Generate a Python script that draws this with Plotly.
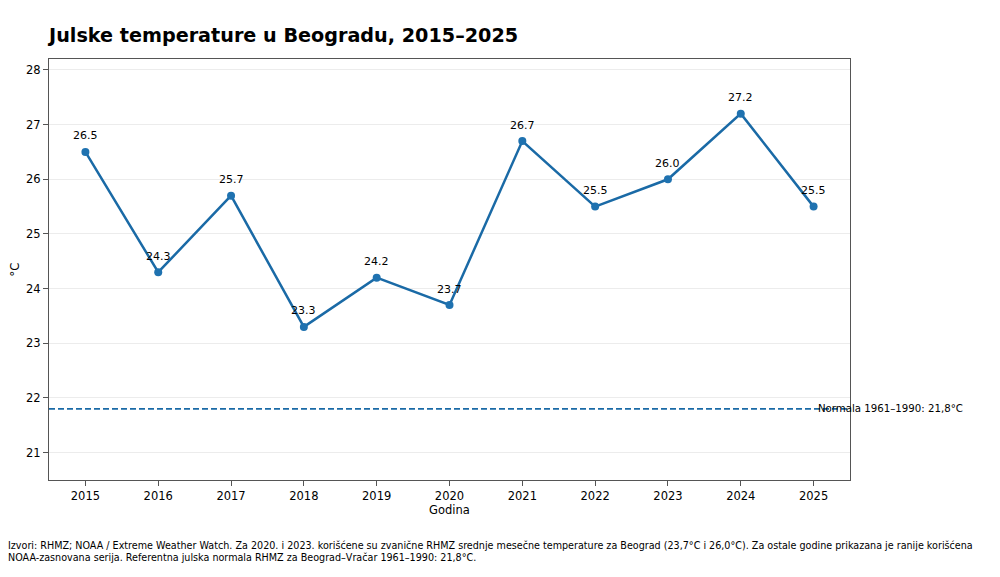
import plotly.graph_objects as go

# Julske prosecne temperature, Beograd
godine = [2015, 2016, 2017, 2018, 2019, 2020, 2021, 2022, 2023, 2024, 2025]
temperature = [26.5, 24.3, 25.7, 23.3, 24.2, 23.7, 26.7, 25.5, 26.0, 27.2, 25.5]
normala = 21.8
y_ticks = [21, 22, 23, 24, 25, 26, 27, 28]

line_color = '#1a6aa6'
font = 'DejaVu Sans'

fig = go.Figure()

# normala 1961-1990
fig.add_trace(go.Scatter(x=[2014.5, 2025.5], y=[normala, normala], mode='lines',
                         line=dict(color=line_color, width=1.8, dash='6px,3px'),
                         hoverinfo='skip', showlegend=False))

fig.add_trace(go.Scatter(x=godine, y=temperature, mode='lines+markers',
                         line=dict(color=line_color, width=2.5),
                         marker=dict(color='#1f72b0', size=8),
                         showlegend=False))

# oznake vrednosti iznad tacaka
for g, t in zip(godine, temperature):
    fig.add_annotation(x=g, y=t, text=f'{t:.1f}', showarrow=False,
                       yshift=16, font=dict(size=11, color='black', family=font))

fig.add_annotation(x=2025.03, y=normala, text='Normala 1961–1990: 21,8°C', showarrow=False,
                   xanchor='left', yanchor='middle', font=dict(size=10.2, color='black', family=font))

fig.add_annotation(xref='paper', yref='paper', x=-0.054, y=-0.137, xanchor='left', yanchor='top',
                   align='left', showarrow=False,
                   text='Izvori: RHMZ; NOAA / Extreme Weather Watch. Za 2020. i 2023. korišćene su zvanične RHMZ srednje mesečne temperature za Beograd (23,7°C i 26,0°C). Za ostale godine prikazana je ranije korišćena<br>NOAA-zasnovana serija. Referentna julska normala RHMZ za Beograd–Vračar 1961–1990: 21,8°C.',
                   font=dict(size=9.6, color='black', family=font))

fig.update_layout(
    width=1000, height=577,
    plot_bgcolor='white', paper_bgcolor='white',
    margin=dict(l=41, r=158, t=51, b=105, autoexpand=False),
    font=dict(family=font, size=12, color='black'),
    title=dict(text='<b>Julske temperature u Beogradu, 2015–2025</b>', x=0.041, xanchor='left',
               y=0.953, yanchor='middle', font=dict(size=19.2, family=font, color='black')),
)
fig.update_xaxes(range=[2014.5, 2025.5], tickvals=godine, ticks='outside', ticklen=5,
                 tickcolor='#555', showline=True, linecolor='#555', linewidth=1.2, mirror=True,
                 showgrid=False, zeroline=False, automargin=False,
                 title=dict(text='Godina', standoff=4, font=dict(size=11.5)),
                 tickfont=dict(size=11.5))
fig.update_yaxes(range=[20.5, 28.2], tickvals=y_ticks, ticks='outside', ticklen=5,
                 tickcolor='#555', showline=True, linecolor='#555', linewidth=1.2, mirror=True,
                 showgrid=True, gridcolor='#ececec', zeroline=False, automargin=False,
                 title=dict(text='°C', standoff=4, font=dict(size=11.5)),
                 tickfont=dict(size=11.5))

fig.write_html('out.html')
